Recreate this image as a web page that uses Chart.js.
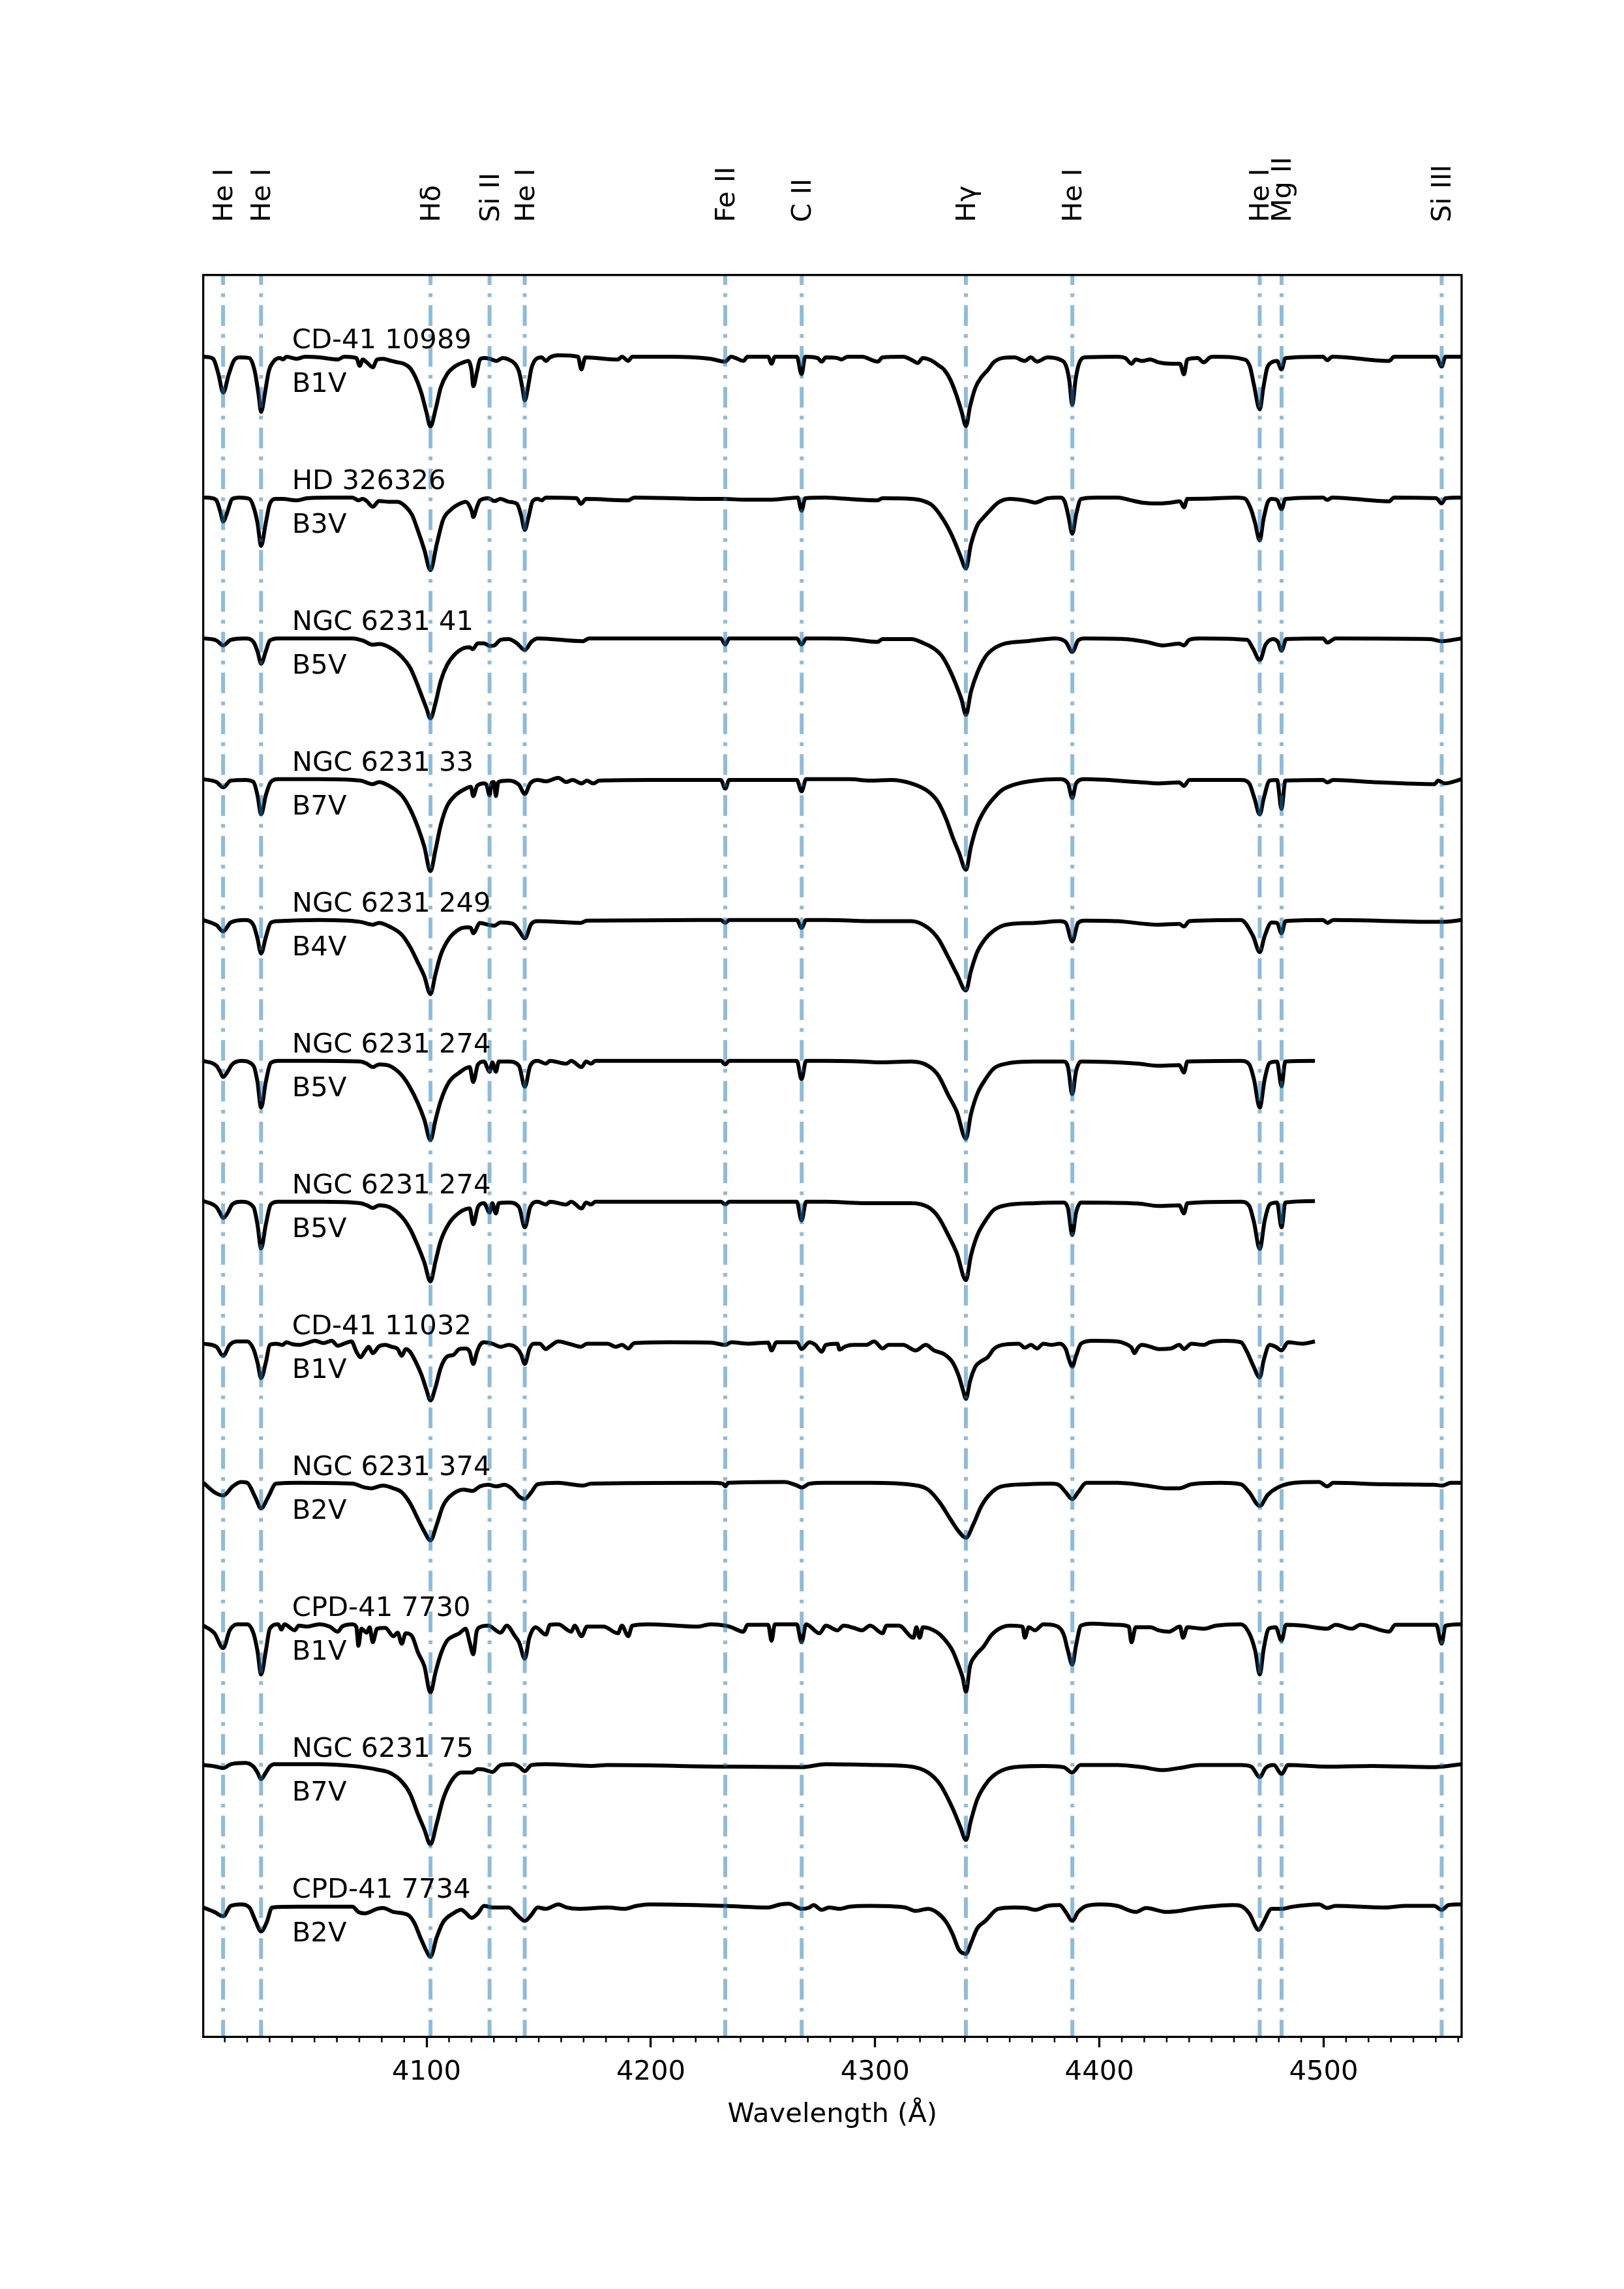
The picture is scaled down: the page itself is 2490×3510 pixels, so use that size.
<!DOCTYPE html>
<html>
<head>
<meta charset="utf-8">
<script src="https://cdn.jsdelivr.net/npm/chart.js@4.4.0/dist/chart.umd.min.js"></script>
<style>
  html, body { margin: 0; padding: 0; background: #fff; }
  canvas { display: block; }
</style>
</head>
<body>
<canvas id="spectra" width="2490" height="3510"></canvas>
<script>
const ctx = document.getElementById('spectra');

// star names and spectral types, top to bottom
const names = ['CD-41 10989', 'HD 326326', 'NGC 6231 41', 'NGC 6231 33', 'NGC 6231 249', 'NGC 6231 274',
  'NGC 6231 274', 'CD-41 11032', 'NGC 6231 374', 'CPD-41 7730', 'NGC 6231 75', 'CPD-41 7734'];
const types = ['B1V', 'B3V', 'B5V', 'B7V', 'B4V', 'B5V', 'B5V', 'B1V', 'B2V', 'B1V', 'B7V', 'B2V'];
const offsets = [11, 10, 9, 8, 7, 6, 5, 4, 3, 2, 1, 0];

// marked lines (Angstrom)
const lineWaves = [4009.26, 4026.19, 4101.74, 4128.07, 4143.76, 4233.17, 4267.26, 4340.46, 4387.93, 4471.48, 4481.23, 4552.62];
const lineNames = ['He I', 'He I', 'Hδ', 'Si II', 'He I', 'Fe II', 'C II', 'Hγ', 'He I', 'He I', 'Mg II', 'Si III'];

// normalised spectra [wavelength, flux]
const specCD41_10989 = [[4000.5,1.0],[4004.4,0.99],[4005.4,0.97],[4007.2,0.875],[4009.3,0.745],[4011.8,0.875],[4014.0,0.97],[4016.4,0.995],[4021.0,0.99],[4023.4,0.895],[4025.0,0.74],[4026.2,0.607],[4027.9,0.74],[4029.6,0.895],[4032.0,0.97],[4034.7,0.99],[4036.0,0.98],[4037.5,1.0],[4042.1,0.985],[4045.8,1.0],[4052.2,0.995],[4060.4,0.98],[4063.2,1.0],[4068.7,0.99],[4070.2,0.935],[4071.5,0.98],[4073.3,0.96],[4076.0,0.925],[4077.9,0.98],[4080.6,0.985],[4084.3,0.97],[4087.1,0.96],[4089.8,0.95],[4092.6,0.92],[4095.3,0.845],[4097.7,0.74],[4099.9,0.607],[4101.7,0.505],[4104.0,0.625],[4106.3,0.78],[4109.1,0.875],[4112.8,0.933],[4116.4,0.96],[4118.6,0.97],[4120.1,0.895],[4120.8,0.79],[4122.5,0.895],[4123.8,0.98],[4125.6,0.99],[4128.2,0.985],[4131.1,0.97],[4133.9,0.99],[4136.6,0.98],[4139.4,0.95],[4141.2,0.895],[4142.7,0.78],[4143.8,0.69],[4145.4,0.8],[4146.7,0.915],[4148.6,0.98],[4151.3,0.995],[4153.2,0.97],[4155.0,0.995],[4158.7,1.01],[4167.5,1.0],[4169.0,0.91],[4170.8,0.995],[4185.3,0.98],[4187.1,1.0],[4189.9,0.97],[4191.7,1.0],[4208.2,1.0],[4226.6,0.985],[4233.0,0.965],[4235.8,1.0],[4241.3,0.97],[4243.1,1.0],[4252.3,1.0],[4253.8,0.95],[4255.3,1.0],[4265.1,1.0],[4267.2,0.875],[4268.8,1.0],[4274.4,0.99],[4276.2,0.965],[4278.0,0.995],
  [4283.2,0.99],[4284.9,0.98],[4287.7,1.0],[4294.1,1.0],[4301.1,0.965],[4303.3,0.995],[4312.5,1.0],[4317.1,0.97],[4318.9,0.955],[4321.3,0.99],[4325.4,0.97],[4328.1,0.94],[4330.9,0.905],[4333.6,0.835],[4336.4,0.72],[4338.6,0.607],[4340.5,0.507],[4342.3,0.645],[4344.7,0.78],[4347.4,0.855],[4350.2,0.905],[4352.9,0.96],[4356.6,0.99],[4362.1,0.995],[4366.7,0.97],[4369.4,0.995],[4372.2,0.965],[4376.8,0.995],[4382.3,0.98],[4385.0,0.94],[4386.5,0.84],[4387.9,0.66],[4389.4,0.84],[4390.9,0.95],[4393.3,0.995],[4408.0,1.0],[4411.6,0.99],[4414.3,0.95],[4416.2,0.98],[4419.0,0.97],[4422.7,0.98],[4426.3,0.96],[4431.9,0.95],[4435.9,0.95],[4437.7,0.875],[4439.2,0.98],[4443.8,0.99],[4446.5,0.96],[4449.3,0.995],[4451.1,1.0],[4464.9,0.98],[4467.1,0.93],[4468.9,0.8],[4471.5,0.626],[4473.1,0.78],[4474.8,0.92],[4476.8,0.96],[4479.2,0.97],[4481.2,0.91],[4482.9,0.99],[4499.7,1.0],[4501.6,0.975],[4503.8,1.0],[4529.2,0.97],[4531.4,1.0],[4550.2,1.0],[4552.6,0.93],[4554.3,1.0],[4561.5,1.0]];

const specHD326326 = [[4000.5,1.0],[4004.4,0.995],[4006.3,0.98],[4008.1,0.895],[4009.3,0.83],[4011.1,0.895],[4013.3,0.99],[4016.4,1.0],[4021.0,0.99],[4022.8,0.935],[4024.6,0.82],[4026.2,0.657],[4028.3,0.82],[4030.1,0.955],[4032.9,0.99],[4035.7,0.99],[4042.1,0.98],[4046.7,0.995],[4057.7,1.0],[4066.9,1.0],[4069.6,0.98],[4071.5,0.99],[4073.3,0.975],[4076.0,0.935],[4078.8,0.975],[4083.4,0.97],[4087.1,0.97],[4090.7,0.935],[4093.5,0.877],[4096.2,0.762],[4099.0,0.628],[4101.7,0.484],[4104.5,0.666],[4107.3,0.84],[4110.9,0.915],[4114.6,0.955],[4117.4,0.97],[4120.1,0.905],[4120.8,0.862],[4122.5,0.935],[4123.8,0.98],[4127.5,0.995],[4130.2,0.975],[4133.0,0.99],[4136.6,0.97],[4140.3,0.955],[4142.1,0.877],[4143.8,0.77],[4145.4,0.858],[4147.3,0.975],[4149.5,0.99],[4151.3,0.98],[4153.2,1.0],[4166.9,0.995],[4168.8,0.955],[4171.1,0.99],[4189.9,0.98],[4192.6,1.0],[4226.6,0.99],[4233.0,0.99],[4241.3,0.985],[4253.8,0.985],[4265.5,1.0],[4267.2,0.906],[4268.8,0.995],[4278.0,1.0],
  [4283.2,0.995],[4301.1,0.98],[4303.3,0.995],[4316.2,0.99],[4321.7,0.975],[4325.4,0.945],[4329.0,0.877],[4332.7,0.78],[4335.5,0.685],[4337.9,0.59],[4340.5,0.497],[4342.7,0.666],[4345.5,0.8],[4348.3,0.858],[4351.1,0.906],[4354.8,0.964],[4360.2,0.99],[4367.6,0.977],[4371.3,0.964],[4376.8,0.995],[4382.3,1.0],[4384.5,0.973],[4386.3,0.858],[4387.9,0.743],[4389.6,0.877],[4391.8,0.99],[4398.8,1.0],[4408.0,1.0],[4413.5,0.983],[4419.0,0.964],[4426.3,0.958],[4431.9,0.964],[4435.9,0.973],[4437.7,0.93],[4439.2,0.99],[4446.5,0.992],[4461.2,1.0],[4464.9,0.992],[4467.6,0.916],[4469.4,0.82],[4471.5,0.695],[4473.1,0.84],[4475.0,0.964],[4476.8,0.99],[4479.2,0.983],[4481.2,0.916],[4482.9,0.99],[4499.7,1.0],[4501.6,0.983],[4503.8,1.0],[4529.2,0.973],[4531.4,1.0],[4550.2,0.995],[4552.6,0.958],[4554.3,0.995],[4561.5,1.0]];

const specN6231_41 = [[4000.5,1.0],[4006.3,0.985],[4009.3,0.95],[4012.7,0.99],[4019.1,1.0],[4022.8,0.975],[4024.6,0.908],[4026.2,0.82],[4028.3,0.908],[4030.1,0.985],[4033.8,1.0],[4052.2,1.0],[4066.9,1.0],[4071.5,0.985],[4076.0,0.955],[4078.8,0.96],[4083.4,0.937],[4088.9,0.87],[4092.6,0.793],[4095.3,0.697],[4098.1,0.58],[4099.9,0.505],[4101.7,0.432],[4104.0,0.543],[4106.3,0.697],[4109.1,0.81],[4112.8,0.89],[4116.4,0.93],[4119.2,0.937],[4120.5,0.923],[4122.9,0.965],[4125.6,0.965],[4128.2,0.946],[4130.2,0.95],[4133.0,0.99],[4136.6,0.995],[4140.3,0.965],[4143.8,0.917],[4146.7,0.975],[4149.5,1.0],[4169.7,0.98],[4172.4,1.0],[4231.2,1.0],[4233.2,0.955],[4234.9,1.0],[4265.1,1.0],[4267.2,0.955],[4269.2,1.0],[4278.0,1.0],
  [4288.6,0.995],[4301.1,0.975],[4303.3,0.995],[4316.2,0.995],[4321.7,0.965],[4326.3,0.927],[4330.0,0.87],[4333.6,0.764],[4336.4,0.658],[4338.6,0.562],[4340.5,0.457],[4342.7,0.62],[4345.5,0.754],[4349.2,0.87],[4352.9,0.927],[4358.4,0.965],[4367.6,0.98],[4380.4,1.0],[4385.0,0.975],[4387.9,0.904],[4390.5,0.985],[4393.3,1.0],[4411.6,0.995],[4420.8,0.975],[4428.2,0.95],[4435.6,0.962],[4437.7,0.95],[4440.1,0.99],[4444.7,1.0],[4465.8,0.99],[4468.5,0.927],[4471.5,0.845],[4474.1,0.955],[4477.4,0.995],[4479.6,0.975],[4481.2,0.912],[4483.3,0.995],[4499.7,1.0],[4501.6,0.97],[4505.3,1.0],[4547.5,0.995],[4552.6,0.98],[4561.5,1.0]];

const specN6231_33 = [[4000.5,1.0],[4006.3,0.98],[4009.3,0.942],[4012.7,0.99],[4019.1,0.995],[4022.8,0.98],[4024.6,0.885],[4026.2,0.75],[4028.3,0.885],[4030.5,0.98],[4033.8,1.0],[4052.2,1.0],[4070.5,0.99],[4076.0,0.965],[4078.8,0.98],[4083.4,0.952],[4088.9,0.885],[4092.6,0.79],[4096.2,0.655],[4099.0,0.52],[4101.7,0.347],[4104.0,0.5],[4106.3,0.674],[4109.1,0.808],[4112.8,0.885],[4117.4,0.933],[4119.7,0.946],[4120.8,0.88],[4122.5,0.952],[4125.6,0.97],[4126.7,0.96],[4128.1,0.885],[4129.0,0.977],[4130.0,0.98],[4130.9,0.88],[4132.0,0.98],[4136.6,0.99],[4141.2,0.96],[4143.8,0.895],[4146.2,0.97],[4149.5,0.995],[4153.2,0.985],[4158.7,1.01],[4162.3,0.98],[4165.1,0.995],[4169.1,0.97],[4171.5,0.99],[4174.3,0.97],[4177.0,0.99],[4199.1,0.995],[4231.2,0.995],[4233.2,0.933],[4234.9,0.995],[4265.1,0.995],[4267.2,0.914],[4269.2,1.0],[4278.0,1.0],
  [4288.6,1.0],[4297.8,0.99],[4307.0,0.995],[4316.2,0.97],[4323.6,0.914],[4328.1,0.837],[4331.8,0.712],[4334.6,0.587],[4337.3,0.482],[4340.5,0.357],[4342.7,0.52],[4345.5,0.674],[4349.2,0.79],[4352.9,0.866],[4356.6,0.923],[4362.1,0.962],[4371.3,0.99],[4382.3,1.0],[4386.0,0.97],[4387.9,0.866],[4389.6,0.97],[4393.3,1.0],[4417.2,0.98],[4426.3,0.97],[4435.6,0.977],[4437.7,0.952],[4440.1,0.995],[4463.1,0.995],[4466.8,0.97],[4469.1,0.866],[4471.5,0.75],[4473.3,0.866],[4475.9,0.99],[4479.2,0.995],[4481.2,0.79],[4482.9,0.99],[4499.7,0.995],[4501.6,0.977],[4504.3,0.995],[4521.7,0.98],[4549.3,0.965],[4551.1,0.99],[4553.9,0.97],[4561.5,1.0]];

const specN6231_249 = [[4000.5,1.0],[4006.3,0.964],[4009.3,0.92],[4012.7,0.983],[4019.1,1.0],[4022.8,0.964],[4024.6,0.868],[4026.2,0.762],[4028.3,0.877],[4030.5,0.98],[4033.8,0.992],[4052.2,1.0],[4070.5,0.987],[4076.0,0.967],[4078.8,0.98],[4083.4,0.954],[4088.9,0.896],[4092.6,0.81],[4096.2,0.695],[4099.0,0.6],[4101.7,0.474],[4104.0,0.618],[4106.3,0.752],[4110.0,0.868],[4114.6,0.935],[4118.3,0.948],[4119.7,0.945],[4120.8,0.906],[4123.8,0.98],[4128.2,0.964],[4130.2,0.96],[4133.0,0.983],[4138.5,0.973],[4141.2,0.925],[4143.8,0.87],[4146.7,0.973],[4149.5,0.992],[4168.8,0.98],[4171.5,0.996],[4231.2,1.0],[4233.2,0.98],[4234.9,1.0],[4265.1,1.0],[4267.2,0.944],[4269.2,1.0],[4278.0,1.0],
  [4301.1,0.992],[4316.2,0.992],[4323.6,0.944],[4328.1,0.868],[4332.7,0.733],[4336.4,0.618],[4340.5,0.5],[4342.7,0.637],[4345.5,0.772],[4349.2,0.868],[4352.9,0.925],[4358.4,0.967],[4371.3,0.98],[4382.3,0.992],[4385.0,0.98],[4387.9,0.848],[4390.5,0.98],[4393.3,0.996],[4408.0,0.992],[4426.3,0.967],[4435.6,0.973],[4437.7,0.954],[4440.1,0.992],[4463.1,1.0],[4468.5,0.887],[4471.5,0.772],[4473.7,0.887],[4476.8,0.983],[4479.2,0.98],[4481.2,0.906],[4482.9,0.992],[4499.7,1.0],[4501.6,0.98],[4504.3,1.0],[4549.3,0.987],[4553.0,0.987],[4561.5,1.0]];

const specN6231_274a = [[4000.5,1.0],[4006.3,0.965],[4007.8,0.927],[4009.3,0.885],[4011.4,0.927],[4013.3,0.975],[4017.3,1.0],[4022.8,0.965],[4024.6,0.85],[4026.2,0.668],[4028.3,0.85],[4030.5,0.985],[4033.8,1.0],[4052.2,1.0],[4070.5,0.995],[4073.3,0.98],[4076.0,0.956],[4078.8,0.975],[4083.4,0.965],[4088.9,0.898],[4092.6,0.812],[4096.2,0.697],[4099.0,0.582],[4101.7,0.438],[4104.0,0.582],[4106.3,0.716],[4110.0,0.85],[4114.6,0.917],[4119.2,0.956],[4120.8,0.85],[4122.9,0.975],[4125.6,0.995],[4128.1,0.923],[4129.3,0.99],[4130.9,0.923],[4132.2,0.995],[4136.6,0.995],[4141.2,0.965],[4143.8,0.816],[4146.2,0.965],[4149.5,1.0],[4153.2,0.98],[4155.0,1.0],[4162.3,0.98],[4164.5,1.0],[4169.1,0.956],[4171.1,0.995],[4173.4,0.98],[4175.2,1.0],[4231.2,1.0],[4233.2,0.975],[4234.9,1.0],[4265.1,1.0],[4267.2,0.87],[4269.2,1.0],[4278.0,1.0],
  [4294.1,0.995],[4301.1,0.99],[4316.2,0.995],[4323.6,0.965],[4328.1,0.898],[4332.7,0.754],[4336.4,0.64],[4340.5,0.447],[4342.7,0.62],[4345.5,0.764],[4349.2,0.87],[4352.9,0.946],[4358.4,0.98],[4371.3,0.995],[4384.1,0.995],[4386.0,0.956],[4387.9,0.764],[4389.6,0.927],[4391.8,0.995],[4417.2,0.98],[4426.3,0.965],[4435.6,0.97],[4437.7,0.917],[4439.2,0.995],[4463.1,1.0],[4466.8,0.975],[4468.9,0.87],[4471.5,0.668],[4473.7,0.87],[4475.9,0.985],[4479.2,0.995],[4481.2,0.82],[4482.9,0.995],[4496.1,1.0]];

const specN6231_274b = [[4000.5,1.005],[4006.3,0.962],[4007.8,0.923],[4009.3,0.885],[4011.4,0.923],[4013.3,0.98],[4017.3,1.0],[4022.8,0.962],[4024.6,0.837],[4026.2,0.668],[4028.3,0.837],[4030.5,0.98],[4033.8,1.0],[4052.2,1.0],[4070.5,0.99],[4073.3,0.975],[4076.0,0.956],[4078.8,0.975],[4083.4,0.962],[4088.9,0.894],[4092.6,0.808],[4096.2,0.683],[4099.0,0.568],[4101.7,0.434],[4104.0,0.578],[4106.3,0.722],[4110.0,0.846],[4114.6,0.923],[4119.2,0.952],[4120.8,0.84],[4122.9,0.962],[4125.6,0.99],[4128.1,0.923],[4129.3,0.99],[4130.9,0.917],[4132.2,0.99],[4136.6,0.994],[4141.2,0.962],[4143.8,0.818],[4146.2,0.962],[4149.5,1.0],[4153.2,0.98],[4155.0,1.0],[4162.3,0.98],[4164.5,1.0],[4169.1,0.952],[4171.1,0.994],[4173.4,0.98],[4175.2,1.0],[4231.2,1.0],[4233.2,0.98],[4234.9,1.0],[4265.1,1.0],[4267.2,0.866],[4269.2,1.0],[4278.0,1.0],
  [4294.1,0.99],[4301.1,0.99],[4316.2,0.99],[4323.6,0.962],[4328.1,0.894],[4332.7,0.76],[4336.4,0.635],[4340.5,0.443],[4342.7,0.616],[4345.5,0.76],[4349.2,0.866],[4352.9,0.942],[4358.4,0.975],[4371.3,0.99],[4384.1,0.994],[4386.0,0.952],[4387.9,0.764],[4389.6,0.923],[4391.8,0.994],[4417.2,0.987],[4426.3,0.97],[4435.6,0.975],[4437.7,0.917],[4439.2,0.99],[4463.1,1.0],[4466.8,0.97],[4468.9,0.856],[4471.5,0.664],[4473.7,0.866],[4475.9,0.98],[4479.2,0.994],[4481.2,0.818],[4482.9,0.994],[4496.1,1.005]];

const specCD41_11032 = [[4000.5,0.992],[4006.3,0.97],[4009.3,0.906],[4012.2,0.983],[4015.5,1.008],[4020.0,1.008],[4022.8,0.954],[4024.6,0.858],[4026.2,0.747],[4028.3,0.858],[4030.1,0.983],[4032.9,0.992],[4035.7,0.983],[4037.5,1.002],[4040.2,0.988],[4043.0,0.983],[4045.8,0.992],[4050.3,1.012],[4054.0,0.996],[4057.7,1.012],[4060.4,0.977],[4063.2,0.992],[4066.5,1.008],[4068.7,0.935],[4070.5,0.896],[4072.4,0.935],[4074.2,0.97],[4076.0,0.925],[4078.8,0.973],[4081.6,0.983],[4084.3,0.97],[4087.1,0.954],[4088.9,0.906],[4090.7,0.954],[4092.6,0.935],[4095.3,0.858],[4097.7,0.772],[4099.9,0.666],[4101.7,0.589],[4104.0,0.685],[4106.3,0.82],[4109.1,0.9],[4111.9,0.912],[4114.6,0.954],[4117.4,0.958],[4119.2,0.935],[4120.8,0.848],[4122.5,0.935],[4123.8,0.983],[4125.6,1.002],[4129.3,0.992],[4133.0,0.97],[4136.6,0.983],[4140.3,0.958],[4142.1,0.916],[4143.8,0.848],[4145.8,0.954],[4147.6,0.992],[4150.4,0.992],[4153.2,0.954],[4155.0,0.973],[4158.7,1.008],[4164.2,0.988],[4168.8,0.97],[4171.5,0.992],[4180.7,0.992],[4184.4,0.97],[4187.1,0.983],[4189.9,0.958],[4192.6,0.996],[4208.2,1.002],[4226.6,1.0],[4233.2,0.983],[4235.8,1.002],[4243.1,0.992],[4252.3,1.0],[4253.8,0.944],[4256.0,1.002],[4265.1,1.002],[4267.2,0.954],[4270.7,1.002],[4273.4,0.983],[4276.2,0.935],[4278.0,0.983],
  [4283.2,0.992],[4284.1,0.95],[4286.8,0.973],[4290.5,0.983],[4295.9,0.983],[4299.6,1.008],[4303.3,0.958],[4306.0,0.983],[4312.5,0.983],[4318.0,0.944],[4322.6,0.983],[4326.3,0.944],[4330.9,0.916],[4334.6,0.858],[4337.3,0.762],[4339.1,0.666],[4340.5,0.6],[4342.3,0.724],[4344.7,0.829],[4347.4,0.868],[4350.2,0.896],[4352.9,0.954],[4356.6,0.983],[4364.0,0.992],[4366.7,0.964],[4369.4,0.983],[4372.2,0.958],[4375.0,0.992],[4378.6,0.983],[4382.3,0.992],[4385.0,0.954],[4386.5,0.877],[4387.9,0.829],[4389.6,0.906],[4391.8,0.992],[4396.9,1.012],[4408.0,1.008],[4411.6,0.992],[4414.3,0.964],[4415.6,0.925],[4417.2,0.964],[4419.0,0.983],[4422.7,0.97],[4426.3,0.954],[4431.9,0.958],[4435.6,0.983],[4437.7,0.954],[4441.0,0.992],[4446.5,0.983],[4449.3,1.002],[4455.7,1.012],[4463.1,1.002],[4465.8,0.935],[4468.5,0.839],[4471.5,0.752],[4473.3,0.877],[4475.9,0.983],[4478.6,0.97],[4481.2,0.944],[4484.1,1.002],[4490.6,0.992],[4496.1,1.008]];

const specN6231_374 = [[4000.5,1.004],[4005.4,0.937],[4009.3,0.914],[4013.6,0.979],[4017.3,1.01],[4020.0,1.004],[4023.7,0.898],[4026.2,0.822],[4029.2,0.898],[4032.9,0.998],[4043.0,1.004],[4066.9,0.998],[4072.4,0.971],[4075.1,0.965],[4080.6,0.985],[4085.2,0.965],[4088.9,0.937],[4092.6,0.86],[4096.2,0.745],[4099.0,0.658],[4101.7,0.595],[4104.5,0.706],[4107.3,0.84],[4111.9,0.927],[4116.4,0.956],[4120.5,0.946],[4123.8,0.979],[4127.5,0.99],[4131.1,0.979],[4134.8,0.99],[4138.5,0.956],[4141.2,0.908],[4143.8,0.889],[4146.7,0.937],[4149.5,0.994],[4158.7,1.004],[4166.0,0.99],[4169.7,0.985],[4173.4,0.998],[4226.6,1.004],[4232.1,0.998],[4233.2,0.979],[4234.5,1.004],[4259.6,1.01],[4265.1,0.985],[4267.3,0.971],[4270.7,0.998],[4278.0,1.004],
  [4297.8,1.004],[4316.2,0.99],[4323.6,0.956],[4329.0,0.86],[4333.6,0.745],[4337.3,0.658],[4340.5,0.614],[4343.7,0.706],[4347.4,0.84],[4352.0,0.937],[4356.6,0.979],[4367.6,0.994],[4378.6,0.998],[4382.3,0.985],[4385.0,0.937],[4387.9,0.889],[4390.5,0.937],[4394.2,1.004],[4408.0,1.004],[4420.8,0.985],[4430.0,0.965],[4435.6,0.965],[4441.0,0.994],[4453.9,1.004],[4463.1,0.994],[4466.8,0.937],[4471.5,0.84],[4475.0,0.917],[4479.6,0.971],[4486.9,1.004],[4497.9,1.01],[4501.6,0.979],[4504.3,1.004],[4527.3,0.994],[4549.3,0.99],[4553.0,0.985],[4556.7,1.004],[4561.5,1.004]];

const specCPD41_7730 = [[4000.5,0.99],[4005.4,0.936],[4009.3,0.83],[4012.2,0.957],[4015.5,1.0],[4020.0,1.0],[4022.8,0.936],[4024.6,0.809],[4026.2,0.643],[4028.3,0.809],[4030.1,0.968],[4033.8,1.0],[4035.3,0.962],[4036.6,1.0],[4041.2,0.957],[4043.0,0.99],[4046.7,0.983],[4052.2,1.0],[4056.8,0.983],[4060.4,0.947],[4062.3,0.983],[4066.9,1.0],[4068.7,0.979],[4069.6,0.847],[4070.9,0.968],[4073.3,0.94],[4074.6,0.979],[4076.0,0.872],[4077.9,0.968],[4081.6,0.974],[4085.2,0.915],[4087.1,0.94],[4088.9,0.862],[4090.7,0.936],[4093.5,0.915],[4096.2,0.798],[4099.0,0.702],[4101.7,0.515],[4104.0,0.66],[4106.3,0.787],[4109.1,0.883],[4111.9,0.915],[4114.6,0.936],[4117.4,0.968],[4119.2,0.872],[4120.8,0.787],[4122.3,0.947],[4123.8,0.979],[4127.5,0.99],[4133.0,0.94],[4135.7,0.99],[4139.4,0.915],[4141.2,0.872],[4143.8,0.755],[4145.8,0.904],[4148.6,0.979],[4153.2,0.926],[4155.0,0.996],[4158.7,1.0],[4164.5,0.947],[4166.0,0.99],[4169.1,0.915],[4171.5,0.983],[4178.9,0.983],[4185.3,0.936],[4187.1,0.99],[4189.9,0.915],[4191.7,0.99],[4199.1,1.0],[4221.1,0.983],[4226.6,1.0],[4233.2,0.99],[4235.8,0.979],[4241.3,0.947],[4243.1,0.996],[4252.3,0.996],[4253.8,0.883],[4255.3,1.0],[4265.1,1.0],[4267.2,0.872],[4269.2,1.0],[4275.2,0.936],[4278.0,0.99],
  [4283.2,0.957],[4285.9,0.99],[4290.5,0.974],[4294.1,0.957],[4297.8,0.99],[4303.3,0.936],[4305.1,0.99],[4310.6,0.99],[4317.1,0.904],[4318.4,0.979],[4319.9,0.904],[4321.3,0.979],[4327.2,0.947],[4330.9,0.894],[4334.6,0.809],[4337.3,0.702],[4339.1,0.617],[4340.5,0.521],[4342.3,0.702],[4344.7,0.777],[4348.3,0.84],[4352.0,0.926],[4356.6,0.979],[4360.2,0.99],[4365.7,0.983],[4366.7,0.904],[4368.5,0.979],[4371.3,0.957],[4375.0,1.0],[4380.4,0.99],[4384.1,0.926],[4386.0,0.809],[4387.9,0.713],[4389.6,0.851],[4391.8,0.99],[4396.9,1.004],[4408.0,0.996],[4413.1,0.983],[4414.3,0.872],[4416.2,0.979],[4422.7,0.979],[4426.3,0.957],[4430.9,0.947],[4435.9,0.983],[4437.3,0.904],[4439.2,0.979],[4446.5,0.968],[4452.0,0.99],[4463.1,1.0],[4466.8,0.936],[4469.5,0.809],[4471.5,0.643],[4473.3,0.83],[4475.5,0.968],[4478.6,0.979],[4481.2,0.883],[4483.2,0.996],[4490.6,0.99],[4501.6,0.968],[4505.3,0.996],[4512.6,0.968],[4516.3,0.996],[4529.2,0.947],[4531.9,0.996],[4550.2,0.996],[4552.6,0.862],[4554.3,0.99],[4561.5,1.0]];

const specN6231_75 = [[4000.5,1.0],[4004.4,0.994],[4007.2,0.985],[4009.3,0.979],[4012.7,1.006],[4019.1,1.015],[4022.8,0.989],[4024.6,0.947],[4026.2,0.9],[4028.3,0.947],[4030.1,0.989],[4032.0,1.006],[4052.2,1.006],[4066.9,0.994],[4074.2,0.979],[4077.9,0.968],[4083.4,0.947],[4088.9,0.883],[4092.6,0.798],[4096.2,0.649],[4099.0,0.543],[4101.7,0.436],[4104.5,0.585],[4107.3,0.755],[4110.9,0.883],[4115.5,0.947],[4120.1,0.947],[4122.9,0.972],[4125.6,0.968],[4129.3,0.951],[4133.0,1.0],[4138.5,1.006],[4141.2,0.989],[4143.8,0.957],[4146.7,1.0],[4153.2,1.006],[4173.4,0.994],[4180.7,1.0],[4233.2,0.989],[4267.2,0.985],[4278.0,1.006],
  [4301.1,1.0],[4316.2,0.989],[4323.6,0.947],[4329.0,0.862],[4334.6,0.691],[4337.9,0.564],[4340.5,0.468],[4342.7,0.606],[4345.5,0.755],[4350.2,0.883],[4354.8,0.947],[4362.1,0.985],[4375.0,0.994],[4384.1,0.985],[4387.9,0.947],[4391.5,1.0],[4408.0,1.0],[4419.0,0.985],[4428.2,0.964],[4435.6,0.979],[4444.7,1.0],[4463.1,1.0],[4467.7,0.989],[4471.5,0.915],[4474.1,0.979],[4477.8,1.0],[4481.2,0.936],[4484.1,1.0],[4501.6,0.989],[4521.7,0.994],[4549.3,0.985],[4553.0,0.989],[4561.5,1.006]];

const specCPD41_7734 = [[4000.5,0.989],[4005.4,0.957],[4009.3,0.926],[4012.7,1.0],[4017.3,1.011],[4021.0,0.989],[4023.7,0.894],[4026.2,0.819],[4028.7,0.883],[4031.1,0.989],[4043.0,0.994],[4066.9,0.994],[4069.6,0.957],[4072.4,0.947],[4077.9,0.979],[4080.6,0.985],[4085.2,0.957],[4091.7,0.936],[4094.4,0.883],[4097.2,0.777],[4099.9,0.681],[4101.7,0.638],[4104.5,0.777],[4107.3,0.883],[4111.9,0.947],[4115.5,0.972],[4117.4,0.951],[4120.1,0.915],[4122.9,0.947],[4125.6,1.0],[4129.3,0.989],[4136.6,0.989],[4140.3,0.936],[4143.8,0.894],[4146.7,0.936],[4149.5,0.989],[4153.2,0.979],[4158.7,1.011],[4162.3,0.989],[4167.8,0.979],[4180.7,0.989],[4188.0,0.979],[4193.6,1.0],[4199.1,1.011],[4233.2,1.0],[4252.3,0.989],[4257.8,1.011],[4261.5,1.015],[4267.2,0.979],[4270.7,0.989],[4272.5,1.006],[4276.2,0.972],
  [4279.5,0.989],[4284.1,0.979],[4288.6,0.994],[4297.8,1.0],[4313.4,0.989],[4318.0,0.964],[4323.6,0.979],[4328.1,0.947],[4331.8,0.883],[4334.6,0.798],[4337.3,0.691],[4340.5,0.66],[4342.7,0.734],[4345.5,0.84],[4349.2,0.894],[4354.8,0.979],[4362.1,0.989],[4367.6,0.985],[4371.3,0.972],[4376.8,1.0],[4382.3,1.006],[4385.0,0.957],[4387.9,0.894],[4390.5,0.957],[4394.2,1.0],[4400.6,1.011],[4408.0,1.0],[4416.2,0.957],[4420.8,0.985],[4430.0,0.957],[4435.6,0.964],[4441.0,0.979],[4448.4,0.994],[4459.4,1.006],[4463.1,1.0],[4466.8,0.947],[4471.0,0.83],[4473.1,0.883],[4476.8,0.979],[4481.2,0.979],[4486.0,0.994],[4497.9,1.011],[4501.6,0.985],[4505.3,1.0],[4527.3,0.989],[4536.5,1.0],[4549.3,1.0],[4552.6,0.972],[4555.7,1.006],[4561.5,1.011]];

const spectra = [specCD41_10989, specHD326326, specN6231_41, specN6231_33, specN6231_249, specN6231_274a,
  specN6231_274b, specCD41_11032, specN6231_374, specCPD41_7730, specN6231_75, specCPD41_7734];

const FONT = 'DejaVu Sans';
const FS = 41.7;

Chart.defaults.font.family = FONT;
Chart.defaults.font.size = FS;
Chart.defaults.color = '#000';

// vertical markers, labels, frame, minor ticks
const decor = {
  id: 'decor',
  afterDatasetsDraw(chart) {
    const { ctx, chartArea: a, scales: { x } } = chart;
    ctx.save();
    ctx.beginPath();
    ctx.rect(a.left, a.top, a.right - a.left, a.bottom - a.top);
    ctx.clip();
    ctx.strokeStyle = 'rgba(31,119,180,0.5)';
    ctx.lineWidth = 6;
    ctx.setLineDash([31.7, 12.6, 5.7, 12.6]);
    lineWaves.forEach(w => {
      const px = x.getPixelForValue(w);
      ctx.beginPath();
      ctx.moveTo(px, a.top - 16.3);
      ctx.lineTo(px, a.bottom);
      ctx.stroke();
    });
    ctx.restore();
  },
  afterDraw(chart) {
    const { ctx, chartArea: a, scales: { x, y } } = chart;
    ctx.save();
    ctx.fillStyle = '#000';
    ctx.font = FS + 'px "' + FONT + '"';
    ctx.textBaseline = 'alphabetic';
    ctx.textAlign = 'left';
    // star name and type
    names.forEach((n, i) => {
      const px = x.getPixelForValue(4040);
      ctx.fillText(n, px, y.getPixelForValue(offsets[i] + 1.059));
      ctx.fillText(types[i], px, y.getPixelForValue(offsets[i] + 0.75));
    });
    // line labels above the frame
    lineNames.forEach((n, i) => {
      const px = x.getPixelForValue(lineWaves[i]);
      ctx.save();
      ctx.translate(px + 14, y.getPixelForValue(12.955));
      ctx.rotate(-Math.PI / 2);
      ctx.fillText(n, 0, 0);
      ctx.restore();
    });
    // frame
    ctx.strokeStyle = '#000';
    ctx.lineWidth = 3.3;
    ctx.strokeRect(a.left, a.top, a.right - a.left, a.bottom - a.top);
    // minor ticks
    ctx.lineWidth = 2.5;
    for (let v = 4010; v < x.max; v += 10) {
      if (v % 100 === 0) continue;
      const px = x.getPixelForValue(v);
      ctx.beginPath();
      ctx.moveTo(px, a.bottom);
      ctx.lineTo(px, a.bottom + 8.3);
      ctx.stroke();
    }
    ctx.restore();
  }
};

const chart = new Chart(ctx, {
  type: 'line',
  data: {
    datasets: spectra.map((s, i) => ({
      label: names[i],
      data: s.map(p => ({ x: p[0], y: p[1] + offsets[i] })),
      borderColor: '#000',
      borderWidth: 6,
      pointRadius: 0,
      fill: false,
      cubicInterpolationMode: 'monotone'
    }))
  },
  options: {
    responsive: false,
    animation: false,
    devicePixelRatio: 1,
    layout: {
      padding: { left: 311.6, right: 249, top: 421.7, bottom: 236.6 }
    },
    plugins: {
      legend: { display: false },
      tooltip: { enabled: false }
    },
    scales: {
      x: {
        type: 'linear',
        min: 4000.4,
        max: 4561.5,
        afterFit: s => { s.height = 150; },
        border: { display: false },
        grid: {
          drawOnChartArea: false,
          drawTicks: true,
          tickLength: 16,
          tickWidth: 3.3,
          tickColor: '#000'
        },
        ticks: {
          stepSize: 100,
          includeBounds: false,
          autoSkip: false,
          maxRotation: 0,
          padding: 14,
          color: '#000',
          font: { size: FS },
          callback: v => String(v)
        },
        title: {
          display: true,
          text: 'Wavelength (Å)',
          color: '#000',
          font: { size: FS },
          padding: { top: 0, bottom: 5 }
        }
      },
      y: {
        type: 'linear',
        display: false,
        min: 0.07,
        max: 12.58
      }
    }
  },
  plugins: [decor]
});
</script>
</body>
</html>
